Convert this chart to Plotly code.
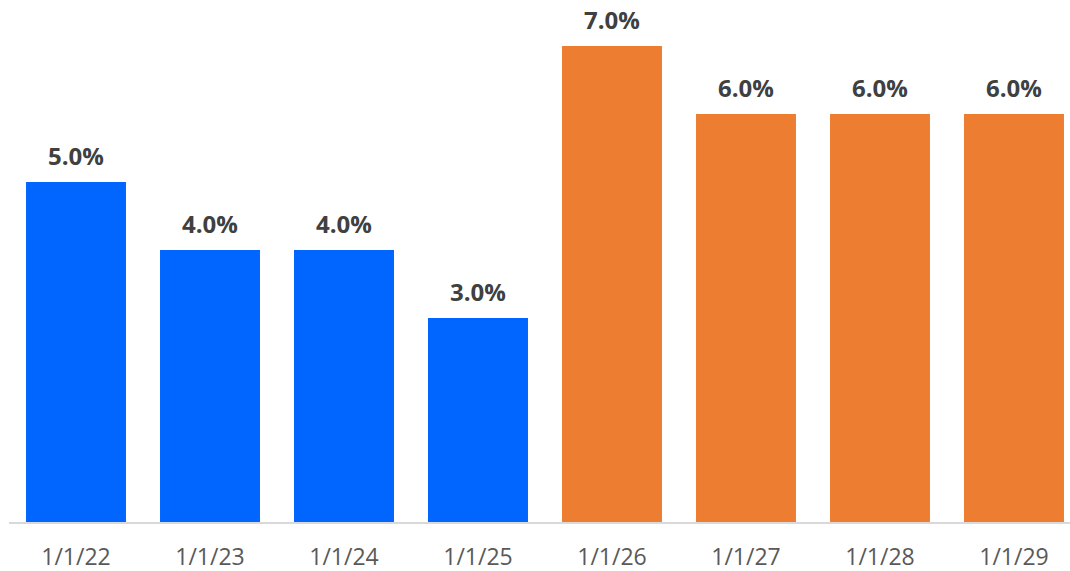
import plotly.graph_objects as go

# data
dates = ['1/1/22', '1/1/23', '1/1/24', '1/1/25', '1/1/26', '1/1/27', '1/1/28', '1/1/29']
rates = [5.0, 4.0, 4.0, 3.0, 7.0, 6.0, 6.0, 6.0]
is_forecast = [False, False, False, False, True, True, True, True]

BLUE = '#0066ff'
ORANGE = '#ed7d31'

colors = [ORANGE if f else BLUE for f in is_forecast]

fig = go.Figure()
fig.add_trace(go.Bar(
    x=dates,
    y=rates,
    marker=dict(color=colors, line=dict(width=0)),
    hoverinfo='x+y',
))

# value labels above the bars
for d, r in zip(dates, rates):
    fig.add_annotation(
        x=d, y=r,
        text=f'<b>{r:.1f}%</b>',
        showarrow=False,
        yanchor='bottom',
        yshift=8,
        font=dict(family='Open Sans', size=24, color='#404040'),
    )

fig.update_layout(
    width=1070,
    height=571,
    margin=dict(l=9, r=0, t=0, b=49),
    plot_bgcolor='white',
    paper_bgcolor='white',
    bargap=0.254,
    showlegend=False,
    font=dict(family='Open Sans', size=23, color='#595959'),
)

fig.update_xaxes(
    type='category',
    range=[-0.5, 7.418],
    showline=True,
    linecolor='#d9d9d9',
    linewidth=2,
    ticks='outside',
    ticklen=13,
    tickcolor='rgba(0,0,0,0)',
    tickfont=dict(family='Open Sans', size=23, color='#595959'),
    showgrid=False,
)
fig.update_yaxes(
    range=[0, 522 / 68],
    visible=False,
    showgrid=False,
    zeroline=False,
)

# drop the default page margin so the chart sits at the window's corner
fig.write_html("out.html", config={'displayModeBar': False},
               post_script="document.body.style.margin='0';")
